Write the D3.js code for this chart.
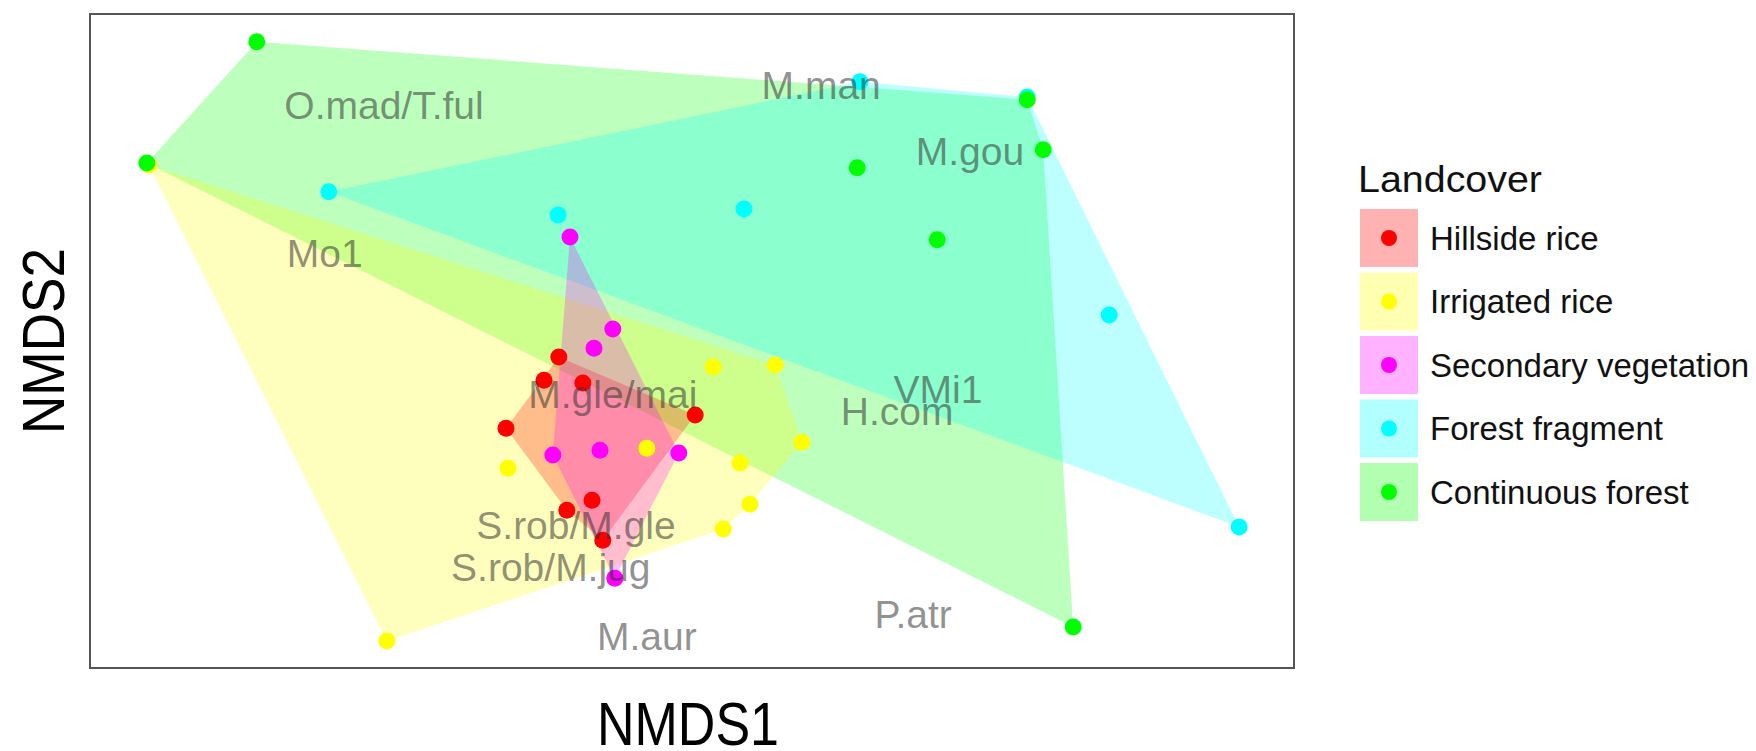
<!DOCTYPE html>
<html>
<head>
<meta charset="utf-8">
<script src="https://cdn.jsdelivr.net/npm/d3@7"></script>
<style>
    body { margin: 0; background: #fff; }
    text { font-family: "Liberation Sans", Arial, sans-serif; }
</style>
</head>
<body>
<div id="nmds-plot"></div>
<script>

// Landcover groups, in legend order
var landcovers = ['Hillside rice', 'Irrigated rice', 'Secondary vegetation', 'Forest fragment', 'Continuous forest'];

// Site scores [NMDS1, NMDS2] per landcover
var hillsideRice = [
    [-0.333, -0.040], [-0.370, -0.098], [-0.273, -0.105], [-0.465, -0.218],
    [0.008, -0.185], [-0.250, -0.398], [-0.313, -0.423], [-0.223, -0.498]
];
var irrigatedRice = [
    [-1.358, 0.440], [0.053, -0.065], [0.208, -0.060], [0.275, -0.253], [0.120, -0.305],
    [0.145, -0.408], [0.078, -0.470], [-0.460, -0.318], [-0.113, -0.268], [-0.763, -0.750]
];
var secondaryVegetation = [
    [-0.305, 0.260], [-0.198, 0.030], [-0.245, -0.018], [-0.348, -0.285],
    [-0.230, -0.273], [-0.033, -0.280], [-0.193, -0.593]
];
var forestFragment = [
    [-0.908, 0.373], [-0.335, 0.315], [0.130, 0.330], [0.420, 0.648],
    [0.838, 0.610], [1.043, 0.065], [1.368, -0.465]
];
var continuousForest = [
    [-1.088, 0.748], [-1.363, 0.445], [0.838, 0.603], [0.878, 0.478],
    [0.413, 0.433], [0.613, 0.253], [0.953, -0.715]
];

// Species scores
var speciesNames = ['O.mad/T.ful', 'M.man', 'M.gou', 'Mo1', 'M.gle/mai', 'H.com', 'VMi1',
    'S.rob/M.gle', 'S.rob/M.jug', 'M.aur', 'P.atr'];
var speciesX = [-0.770, 0.323, 0.695, -0.918, -0.198, 0.513, 0.615, -0.290, -0.353, -0.113, 0.553];
var speciesY = [0.588, 0.638, 0.475, 0.218, -0.133, -0.175, -0.120, -0.460, -0.565, -0.738, -0.683];


NMDSPlot = function(_parentElement) {
    this.parentElement = _parentElement;
    this.groups = [hillsideRice, irrigatedRice, secondaryVegetation, forestFragment, continuousForest];
    this.initVisualization();
}

NMDSPlot.prototype.initVisualization = function() {
    var vis = this;

    vis.panel = { left: 90, top: 14, width: 1204, height: 654 };

    vis.svg = d3.select(vis.parentElement)
        .append('svg')
        .attr('width', 1756)
        .attr('height', 751);

    vis.x = d3.scaleLinear()
        .domain([-1.5, 1.5])
        .range([vis.panel.left + 2, vis.panel.left + vis.panel.width - 2]);

    vis.y = d3.scaleLinear()
        .domain([-0.8, 0.8])
        .range([vis.panel.top + vis.panel.height - 7, vis.panel.top + 7]);

    vis.color = d3.scaleOrdinal()
        .domain(landcovers)
        .range(['#ff0000', '#ffff00', '#ff00ff', '#00ffff', '#00ff00']);

    vis.fillOpacity = 0.26;

    vis.updateVisualization();
}

NMDSPlot.prototype.updateVisualization = function() {
    var vis = this;

    var sets = landcovers.map(function(lc, i) {
        return { landcover: lc, points: vis.groups[i] };
    });

    // hulls: forest first so the overlaps come out the right tint
    var hullOrder = ['Continuous forest', 'Forest fragment', 'Irrigated rice', 'Hillside rice', 'Secondary vegetation'];
    var hullSets = hullOrder.map(function(lc) {
        return sets[landcovers.indexOf(lc)];
    });

    vis.svg.append('g')
        .attr('class', 'hulls')
        .selectAll('path')
        .data(hullSets)
        .enter()
        .append('path')
        .attr('d', function(d) {
            var pts = d.points.map(function(p) { return [vis.x(p[0]), vis.y(p[1])]; });
            return 'M' + d3.polygonHull(pts).join('L') + 'Z';
        })
        .attr('fill', function(d) { return vis.color(d.landcover); })
        .attr('fill-opacity', vis.fillOpacity)
        .attr('stroke', 'none');

    // points
    var pointOrder = ['Hillside rice', 'Irrigated rice', 'Secondary vegetation', 'Forest fragment', 'Continuous forest'];
    var flat = [];
    pointOrder.forEach(function(lc) {
        sets[landcovers.indexOf(lc)].points.forEach(function(p) {
            flat.push({ landcover: lc, x: p[0], y: p[1] });
        });
    });

    vis.svg.append('g')
        .attr('class', 'points')
        .selectAll('circle')
        .data(flat)
        .enter()
        .append('circle')
        .attr('cx', function(d) { return vis.x(d.x); })
        .attr('cy', function(d) { return vis.y(d.y); })
        .attr('r', 8.5)
        .attr('fill', function(d) { return vis.color(d.landcover); });

    // species labels
    vis.svg.append('g')
        .attr('class', 'species')
        .selectAll('text')
        .data(speciesNames)
        .enter()
        .append('text')
        .attr('x', function(d, i) { return vis.x(speciesX[i]); })
        .attr('y', function(d, i) { return vis.y(speciesY[i]); })
        .attr('dy', '0.35em')
        .attr('text-anchor', 'middle')
        .attr('font-size', 39)
        .attr('fill', '#333')
        .attr('fill-opacity', 0.55)
        .text(function(d) { return d; });

    // panel border
    vis.svg.append('rect')
        .attr('x', vis.panel.left)
        .attr('y', vis.panel.top)
        .attr('width', vis.panel.width)
        .attr('height', vis.panel.height)
        .attr('fill', 'none')
        .attr('stroke', '#555')
        .attr('stroke-width', 2);

    // axis titles
    vis.svg.append('text')
        .attr('x', 688)
        .attr('y', 745)
        .attr('text-anchor', 'middle')
        .attr('font-size', 61)
        .attr('textLength', 182)
        .attr('lengthAdjust', 'spacingAndGlyphs')
        .attr('fill', '#000')
        .text('NMDS1');

    vis.svg.append('text')
        .attr('transform', 'translate(64,341) rotate(-90)')
        .attr('text-anchor', 'middle')
        .attr('font-size', 59)
        .attr('textLength', 186)
        .attr('lengthAdjust', 'spacingAndGlyphs')
        .attr('fill', '#000')
        .text('NMDS2');

    // legend
    var legend = vis.svg.append('g')
        .attr('class', 'legend')
        .attr('transform', 'translate(1360,0)');

    legend.append('text')
        .attr('x', -2)
        .attr('y', 192)
        .attr('font-size', 36)
        .attr('textLength', 184)
        .attr('lengthAdjust', 'spacingAndGlyphs')
        .attr('fill', '#111')
        .text('Landcover');

    var keys = legend.selectAll('.key')
        .data(landcovers)
        .enter()
        .append('g')
        .attr('class', 'key')
        .attr('transform', function(d, i) { return 'translate(0,' + (238 + i * 63.5) + ')'; });

    keys.append('rect')
        .attr('x', 0)
        .attr('y', -29)
        .attr('width', 58)
        .attr('height', 58)
        .attr('fill', function(d) { return vis.color(d); })
        .attr('fill-opacity', 0.3);

    keys.append('circle')
        .attr('cx', 29)
        .attr('cy', 0)
        .attr('r', 8)
        .attr('fill', function(d) { return vis.color(d); });

    keys.append('text')
        .attr('x', 70)
        .attr('y', 0)
        .attr('dy', '0.35em')
        .attr('font-size', 33)
        .attr('fill', '#111')
        .text(function(d) { return d; });
}

var nmdsPlot = new NMDSPlot('#nmds-plot');

</script>
</body>
</html>
